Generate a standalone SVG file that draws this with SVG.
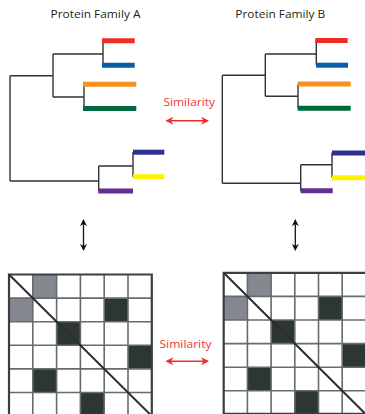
<svg xmlns="http://www.w3.org/2000/svg" width="365" height="414" viewBox="0 0 365 414">
<style>
.title{font-family:"Open Sans","Liberation Sans",sans-serif;font-size:11.5px;fill:#231f20}
.sim{font-family:"Open Sans","Liberation Sans",sans-serif;font-size:11.5px;fill:#ef3535}
.br{stroke:#333;stroke-width:1.4;fill:none}
.bar{stroke-width:5;fill:none}
.grid{stroke:#666b6c;stroke-width:1.6;fill:none}
.border{stroke:#3a4041;stroke-width:2.2;fill:none}
.diag{stroke:#2a2f30;stroke-width:2}
.g{fill:#868890}
.d{fill:#2d3535}
.ra{stroke:#ee2d2d;stroke-width:1.4;fill:none}
.ka{stroke:#111;stroke-width:1.3;fill:none}
</style>
<defs>
<marker id="rh" viewBox="0 0 10 10" refX="8" refY="5" markerWidth="8" markerHeight="8" markerUnits="userSpaceOnUse" orient="auto-start-reverse">
<path d="M0,0 L10,5 L0,10 L3,5 Z" fill="#ee2d2d"/>
</marker>
<marker id="kh" viewBox="0 0 10 10" refX="8" refY="5" markerWidth="7" markerHeight="7" markerUnits="userSpaceOnUse" orient="auto-start-reverse">
<path d="M0,0 L10,5 L0,10 L3,5 Z" fill="#111"/>
</marker>
</defs>

<g id="treeA">
<text class="title" x="95.5" y="18" text-anchor="middle" textLength="90" lengthAdjust="spacingAndGlyphs">Protein Family A</text>
<path class="br" d="M103,40.5 V65 M53,54 H103 M84,84 V108.5 M53,97 H84 M53,54 V97 M10,75.7 H53 M10,75.7 V181 M10,181 H98.7 M98.7,166 V191 M98.7,166 H133 M133,152 V177"/>
<line class="bar" stroke="#ee2d24" x1="102" y1="40.7" x2="134.7" y2="40.7"/>
<line class="bar" stroke="#0a5ca8" x1="102" y1="65.2" x2="134.7" y2="65.2"/>
<line class="bar" stroke="#f7901e" x1="83" y1="84.2" x2="136.3" y2="84.2"/>
<line class="bar" stroke="#00693e" x1="83" y1="108.5" x2="136.3" y2="108.5"/>
<line class="bar" stroke="#2e3192" x1="133" y1="152.2" x2="164.3" y2="152.2"/>
<line class="bar" stroke="#fff200" x1="133" y1="176.7" x2="164.3" y2="176.7"/>
<line class="bar" stroke="#662d91" x1="98.3" y1="191" x2="133" y2="191"/>
</g>

<g id="treeB">
<text class="title" x="280.3" y="18" text-anchor="middle" textLength="90" lengthAdjust="spacingAndGlyphs">Protein Family B</text>
<path class="br" d="M316.3,40.5 V65 M265.3,54 H316.3 M298,84 V108.3 M265.3,96.3 H298 M265.3,54 V96.3 M222.3,75.3 H265.3 M222.3,75.3 V183.3 M222.3,183.3 H300.7 M300.7,164.7 V191.3 M300.7,164.7 H332 M332,152.5 V177.5"/>
<line class="bar" stroke="#ee2d24" x1="315.3" y1="40.5" x2="347.7" y2="40.5"/>
<line class="bar" stroke="#0a5ca8" x1="316" y1="65.2" x2="348" y2="65.2"/>
<line class="bar" stroke="#f7901e" x1="297.7" y1="84" x2="350.7" y2="84"/>
<line class="bar" stroke="#00693e" x1="297.7" y1="108.3" x2="350.7" y2="108.3"/>
<line class="bar" stroke="#2e3192" x1="332" y1="153" x2="365" y2="153"/>
<line class="bar" stroke="#fff200" x1="332" y1="177.7" x2="365" y2="177.7"/>
<line class="bar" stroke="#662d91" x1="300.7" y1="190.7" x2="332.7" y2="190.7"/>
</g>

<g id="simTop">
<text class="sim" x="189.2" y="106" text-anchor="middle" textLength="51.5" lengthAdjust="spacingAndGlyphs">Similarity</text>
</g>
<g id="simBottom">
<text class="sim" x="185.5" y="348" text-anchor="middle" textLength="52" lengthAdjust="spacingAndGlyphs">Similarity</text>
</g>

<g id="matrixA">
<rect class="g" x="32.8" y="274.5" width="23.8" height="23.6"/>
<rect class="g" x="9" y="298.1" width="23.8" height="23.6"/>
<rect class="d" x="104.2" y="298.1" width="23.8" height="23.6"/>
<rect class="d" x="56.6" y="321.7" width="23.8" height="23.6"/>
<rect class="d" x="128" y="345.3" width="23.8" height="23.6"/>
<rect class="d" x="32.8" y="368.9" width="23.8" height="23.6"/>
<rect class="d" x="80.4" y="392.5" width="23.8" height="23.6"/>
<path class="grid" d="M32.8,274.5 V416 M56.6,274.5 V416 M80.4,274.5 V416 M104.2,274.5 V416 M128,274.5 V416 M9,298.1 H151.8 M9,321.7 H151.8 M9,345.3 H151.8 M9,368.9 H151.8 M9,392.5 H151.8"/>
<path class="border" d="M9,420 V274.5 H151.8 V420"/>
<line class="diag" x1="9" y1="274.5" x2="151.8" y2="416.1"/>
</g>

<g id="matrixB">
<rect class="g" x="247.4" y="272.8" width="23.7" height="23.6"/>
<rect class="g" x="223.7" y="296.4" width="23.7" height="23.6"/>
<rect class="d" x="318.5" y="296.4" width="23.7" height="23.6"/>
<rect class="d" x="271.1" y="320" width="23.7" height="23.6"/>
<rect class="d" x="342.2" y="343.6" width="23.7" height="23.6"/>
<rect class="d" x="247.4" y="367.2" width="23.7" height="23.6"/>
<rect class="d" x="294.8" y="390.8" width="23.7" height="23.6"/>
<path class="grid" d="M247.4,272.8 V416 M271.1,272.8 V416 M294.8,272.8 V416 M318.5,272.8 V416 M342.2,272.8 V416 M223.7,296.4 H366 M223.7,320 H366 M223.7,343.6 H366 M223.7,367.2 H366 M223.7,390.8 H366"/>
<path class="border" d="M223.7,414 V272.8 H366 M223.7,413.8 H366"/>
<line class="diag" x1="223.7" y1="272.8" x2="365.9" y2="414.4"/>
</g>

<g id="connectors">
<line class="ra" x1="167" y1="120.7" x2="207.5" y2="120.7" marker-start="url(#rh)" marker-end="url(#rh)"/>
<line class="ra" x1="167" y1="361.3" x2="207.5" y2="361.3" marker-start="url(#rh)" marker-end="url(#rh)"/>
<line class="ka" x1="83.5" y1="220.5" x2="83.5" y2="249.5" marker-start="url(#kh)" marker-end="url(#kh)"/>
<line class="ka" x1="295.3" y1="220.5" x2="295.3" y2="249.5" marker-start="url(#kh)" marker-end="url(#kh)"/>
</g>
</svg>
